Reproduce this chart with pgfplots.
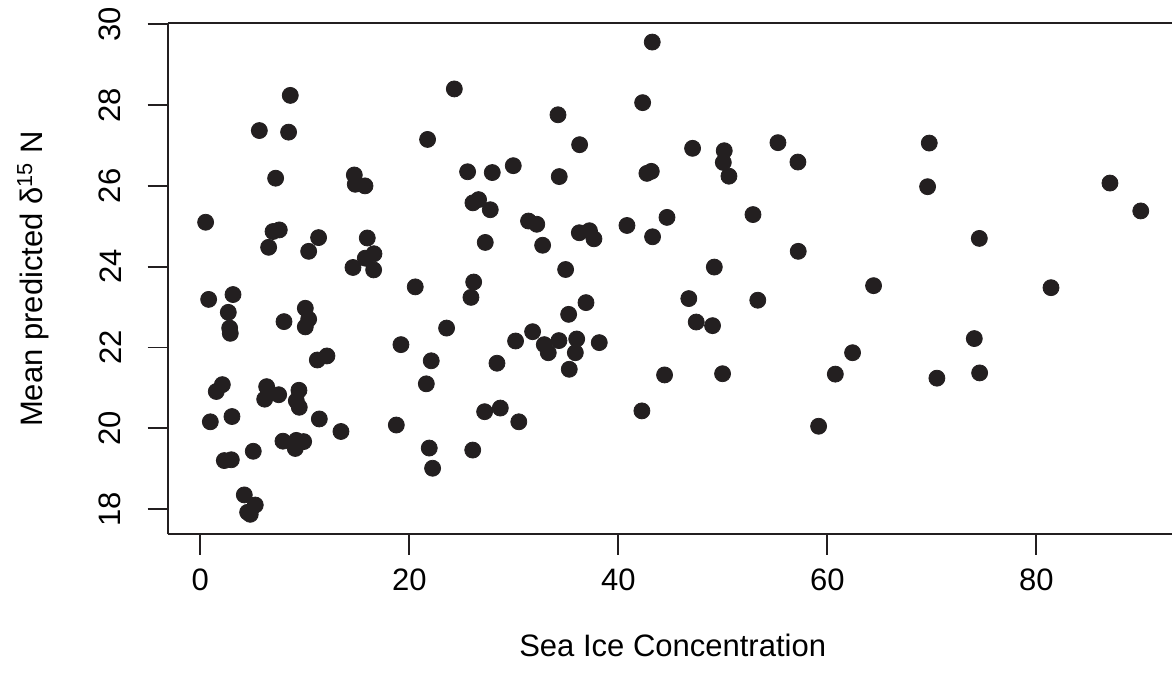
\documentclass[border=0pt]{standalone}
\usepackage{pgfplots}
\pgfplotsset{compat=1.18}
\usepackage{fontspec}
\setmainfont{Liberation Sans}
\definecolor{dot}{RGB}{35,31,32}
\definecolor{axcol}{RGB}{35,31,32}
\begin{document}
\fontsize{15.5}{18}\selectfont
\begin{tikzpicture}
\begin{axis}[
  scale only axis,
  width=502.15pt, height=255.5pt,
  xmin=-3.12, xmax=92.99,
  ymin=17.37, ymax=30.02,
  axis y line*=left,
  tick pos=left,
  tick align=outside,
  major tick length=10pt,
  xtick={0,20,40,60,80},
  ytick={18,20,22,24,26,28,30},
  axis line style={line width=1pt, color=axcol},
  every tick/.style={line width=0.9pt, color=axcol},
  /pgf/number format/assume math mode=true,
  tick label style={font=\fontsize{15.5}{18}\selectfont, inner sep=0pt, text=black},
  xticklabel style={anchor=north},
  xticklabel shift=7pt,
  yticklabel style={rotate=90, anchor=south},
  yticklabel shift=13pt,
  xlabel={Sea Ice Concentration},
  ylabel={Mean predicted δ\textsuperscript{15} N},
  label style={font=\fontsize{15.5}{18}\selectfont},
  xlabel style={at={(axis description cs:0.5028,-0.2172)}, anchor=center, inner sep=0pt},
  ylabel style={at={(axis description cs:-0.1341,0.5)}, anchor=center, inner sep=0pt},
  clip=false,
]
\coordinate (ll) at (rel axis cs:0,0);
\coordinate (ur) at (rel axis cs:1,1);
\addplot[only marks, mark=*, mark size=4pt, draw=dot, fill=dot, mark options={draw=dot, fill=dot}] coordinates {
(8.61,28.24) (5.65,27.37) (8.45,27.33) (7.21,26.19) (14.74,26.27) (15.76,26.00)
(14.83,26.04) (0.51,25.10) (7.56,24.91) (6.96,24.87) (6.54,24.48) (11.32,24.72)
(10.37,24.38) (15.98,24.71) (16.62,24.32) (15.79,24.21) (14.61,23.98) (16.59,23.92)
(20.57,23.50) (0.80,23.19) (3.13,23.31) (2.68,22.87) (2.81,22.48) (2.87,22.35)
(8.01,22.64) (10.05,22.97) (10.37,22.70) (10.05,22.51) (19.20,22.07) (11.20,21.69)
(12.12,21.79) (2.11,21.08) (1.53,20.91) (6.35,21.03) (6.16,20.72) (7.50,20.83)
(9.44,20.94) (9.19,20.68) (9.47,20.52) (0.96,20.16) (3.03,20.29) (11.39,20.23)
(13.46,19.92) (18.76,20.08) (7.91,19.68) (9.19,19.70) (9.89,19.67) (9.09,19.50)
(5.07,19.43) (2.30,19.20) (2.97,19.22) (4.21,18.35) (5.26,18.10) (4.78,17.87)
(4.53,17.92)
(43.25,29.56) (24.31,28.40) (42.33,28.06) (34.23,27.76) (21.75,27.15) (36.30,27.02)
(25.58,26.35) (27.94,26.33) (29.95,26.50) (34.35,26.23) (42.74,26.31) (43.16,26.36)
(26.09,25.58) (26.63,25.66) (27.75,25.41) (31.41,25.13) (32.20,25.05) (36.27,24.84)
(37.24,24.89) (37.67,24.69) (40.83,25.02) (43.28,24.74) (27.27,24.60) (32.76,24.53)
(34.96,23.93)
(26.16,23.62) (25.90,23.24) (36.91,23.11) (23.57,22.48) (35.25,22.82) (31.80,22.39)
(30.17,22.16) (32.92,22.07) (33.30,21.87) (34.32,22.17) (36.02,22.21) (35.89,21.87)
(38.18,22.12) (35.31,21.46) (22.10,21.67) (21.63,21.10) (28.39,21.61) (27.21,20.41)
(28.71,20.50) (30.48,20.16) (42.26,20.43) (21.91,19.51) (22.23,19.01) (26.07,19.46)
(47.11,26.93) (55.28,27.07) (50.14,26.87) (50.05,26.58) (50.59,26.24) (57.19,26.59)
(44.66,25.22) (52.89,25.29) (57.22,24.38) (49.19,23.99)
(46.75,23.21) (53.35,23.17) (47.46,22.63) (49.02,22.54) (64.43,23.53) (62.42,21.87)
(60.77,21.34) (44.43,21.32) (49.98,21.35) (59.17,20.05)
(69.76,27.06) (69.60,25.98) (74.55,24.70) (87.05,26.07) (90.00,25.38) (81.41,23.48)
(74.07,22.22) (70.49,21.24) (74.58,21.37)
};
\end{axis}
\pgfresetboundingbox
\path[use as bounding box] ([xshift=-83.85pt,yshift=-77.75pt]ll) rectangle ([yshift=11.75pt]ur);
\end{tikzpicture}
\end{document}
